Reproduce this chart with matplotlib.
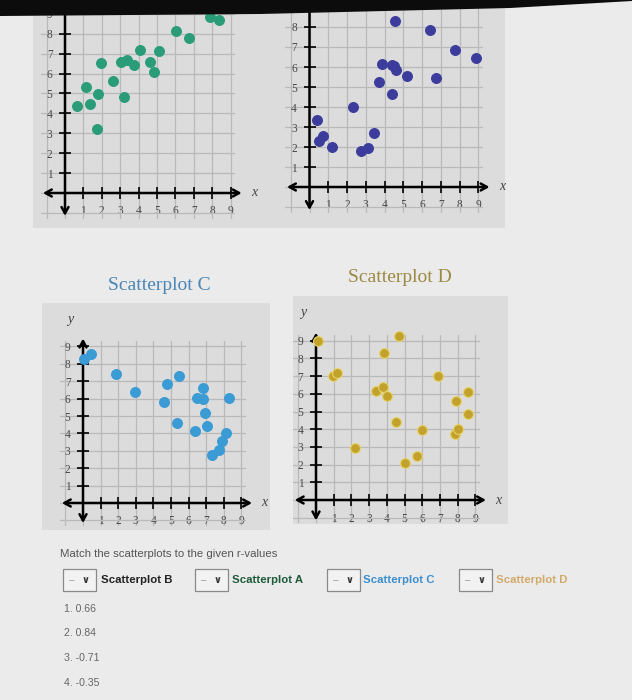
import matplotlib
matplotlib.use("Agg")
import matplotlib.pyplot as plt
from matplotlib.patches import Rectangle, Polygon

plt.rcParams['font.family'] = ['Liberation Serif', 'DejaVu Serif']

W, H = 632, 700

# values
a_x = [0.64, 1.15, 1.36, 1.73, 1.82, 1.95, 2.6, 3.04, 3.22, 3.36, 3.73, 4.09, 4.64, 4.82, 5.13, 6.04, 6.73, 7.9, 8.36]
a_y = [4.37, 5.33, 4.45, 3.22, 4.95, 6.53, 5.63, 6.57, 4.8, 6.7, 6.45, 7.17, 6.57, 6.08, 7.13, 8.13, 7.78, 8.83, 8.67]

b_x = [0.38, 0.52, 0.7, 1.18, 2.3, 2.75, 3.14, 3.45, 3.7, 3.88, 4.39, 4.39, 4.52, 4.59, 4.57, 5.2, 6.41, 6.73, 7.75, 8.89]
b_y = [3.33, 2.28, 2.53, 2.0, 4.0, 1.8, 1.93, 2.7, 5.27, 6.13, 6.1, 4.63, 6.03, 5.87, 8.3, 5.53, 7.87, 5.47, 6.83, 6.47]

c_x = [0.03, 0.48, 1.85, 2.95, 4.6, 4.75, 5.45, 5.35, 6.35, 6.5, 6.8, 6.8, 6.95, 7.05, 7.35, 7.75, 7.9, 8.15, 8.3]
c_y = [8.28, 8.55, 7.4, 6.37, 5.81, 6.83, 7.32, 4.59, 4.13, 6.06, 6.63, 6.0, 5.16, 4.44, 2.77, 3.02, 3.54, 4.05, 6.06]

d_x = [0.1, 0.94, 1.17, 2.2, 3.4, 3.83, 3.79, 4.0, 4.5, 4.68, 5.02, 5.68, 5.98, 6.89, 7.9, 7.83, 8.02, 8.6, 8.6]
d_y = [9.0, 6.98, 7.17, 2.92, 6.13, 8.3, 6.38, 5.9, 4.43, 9.28, 2.09, 2.51, 3.94, 6.98, 5.6, 3.74, 4.0, 6.11, 4.85]

ticks = list(range(1, 10))
r_values = ["1. 0.66", "2. 0.84", "3. -0.71", "4. -0.35"]
dropdown_labels = ["Scatterplot B", "Scatterplot A", "Scatterplot C", "Scatterplot D"]
dropdown_colors = ["#222222", "#1d5a3a", "#3b8fd0", "#d2aa6a"]

fig = plt.figure(figsize=(W / 100, H / 100), dpi=100, facecolor="#ebebeb")


def px_rect(x, y, w, h):
    # pixel box (from top-left) -> figure fraction
    return (x / W, 1 - (y + h) / H), w / W, h / H


def add_panel(x, y, w, h):
    xy, fw, fh = px_rect(x, y, w, h)
    fig.patches.append(Rectangle(xy, fw, fh, transform=fig.transFigure,
                                 facecolor="#dcdcdc", edgecolor="none", zorder=-1))


def draw_plot(x0, xu, y0, yu, xs, ys, color, edge, show_y=True):
    xlim = (-1.3, 9.25)
    ylim = (-1.3, 9.3)
    left = (x0 + xlim[0] * xu) / W
    width = (xlim[1] - xlim[0]) * xu / W
    bottom = 1 - (y0 - ylim[0] * yu) / H
    height = (ylim[1] - ylim[0]) * yu / H
    ax = fig.add_axes([left, bottom, width, height])
    ax.set_xlim(xlim)
    ax.set_ylim(ylim)
    ax.set_facecolor("none")
    ax.spines['left'].set_position(('data', 0))
    ax.spines['bottom'].set_position(('data', 0))
    for s in ax.spines.values():
        s.set_color("none")
    ax.xaxis.set_ticks_position('bottom')
    ax.yaxis.set_ticks_position('left')
    ax.set_xticks(ticks)
    ax.set_yticks(ticks)
    ax.set_xticks([-1, 0], minor=True)
    ax.set_yticks([-1, 0], minor=True)
    ax.tick_params(which='major', direction='inout', length=9, width=1.2,
                   color='black', labelsize=8.3, labelcolor='#484848', pad=4.5)
    ax.tick_params(which='minor', length=0)
    ax.grid(True, which='both', color='#b9b9b9', lw=0.9)
    ax.set_axisbelow(True)

    arrow = dict(arrowstyle='<->,head_length=0.45,head_width=0.25', lw=1.8,
                 color='black', shrinkA=0, shrinkB=0)
    ax.annotate('', xy=(9.6, 0), xytext=(-1.2, 0), arrowprops=arrow, annotation_clip=False)
    ax.annotate('', xy=(0, 9.45), xytext=(0, -1.15), arrowprops=arrow, annotation_clip=False)
    ax.text(10.1, 0, "x", style='italic', fontsize=10, color='#444444',
            va='center', ha='left', clip_on=False)
    if show_y:
        ax.text(-0.7, 10.2, "y", style='italic', fontsize=10, color='#444444',
                va='bottom', ha='center', clip_on=False)

    ax.scatter(xs, ys, s=50, color=color, edgecolors=edge, linewidths=0.8,
               zorder=5, clip_on=False)
    return ax


# grey panels behind the plots
add_panel(33, 8, 472, 220)
add_panel(42, 303, 228, 227)
add_panel(293, 296, 215, 228)

draw_plot(65, 18.4, 193, 19.9, a_x, a_y, "#2a9d78", "#2a9d78", show_y=False)
draw_plot(309.5, 18.75, 187, 20.0, b_x, b_y, "#3c3c9c", "#3c3c9c", show_y=False)
draw_plot(83, 17.6, 503, 17.4, c_x, c_y, "#3a9bd5", "#3a9bd5")
draw_plot(316, 17.7, 500, 17.7, d_x, d_y, "#c2a12c", "#e6d468")

# dark band of the screen edge at the top
band = [(0, 1), (1, 1), (1, 1 - 1 / H), (510 / W, 1 - 8 / H),
        (260 / W, 1 - 14 / H), (0, 1 - 16 / H)]
fig.patches.append(Polygon(band, closed=True, transform=fig.transFigure,
                           facecolor="#0c0c0c", edgecolor="none", zorder=10))

fig.text(159 / W, 1 - 285 / H, "Scatterplot C", color="#4a86b6", fontsize=14,
         ha='center', va='center')
fig.text(400 / W, 1 - 277 / H, "Scatterplot D", color="#9c8a42", fontsize=14,
         ha='center', va='center')

sans = ['Liberation Sans', 'DejaVu Sans']
fig.text(60 / W, 1 - 554 / H, "Match the scatterplots to the given r-values",
         family=sans, fontsize=8.2, color="#555555", va='center')

box_x = [63, 195, 327, 459]
label_x = [101, 232, 363, 496]
for bx, lx, lab, col in zip(box_x, label_x, dropdown_labels, dropdown_colors):
    xy, fw, fh = px_rect(bx, 569, 33, 22)
    fig.patches.append(Rectangle(xy, fw, fh, transform=fig.transFigure,
                                 facecolor="#f2f2f2", edgecolor="#8a8a8a", lw=0.9))
    fig.text((bx + 9) / W, 1 - 580 / H, "\u2013", family=sans, fontsize=7,
             color="#999999", va='center', ha='center')
    fig.text((bx + 22) / W, 1 - 580 / H, "\u2228", family=sans, fontsize=7,
             color="#333333", va='center', ha='center', fontweight='bold')
    fig.text(lx / W, 1 - 580 / H, lab, family=sans, fontsize=8.2,
             color=col, va='center', fontweight='bold')

for i, rv in enumerate(r_values):
    fig.text(64 / W, 1 - (609 + 24.5 * i) / H, rv, family=sans, fontsize=7.6,
             color="#666666", va='center')

fig.savefig("out.png", dpi=100, facecolor=fig.get_facecolor())
